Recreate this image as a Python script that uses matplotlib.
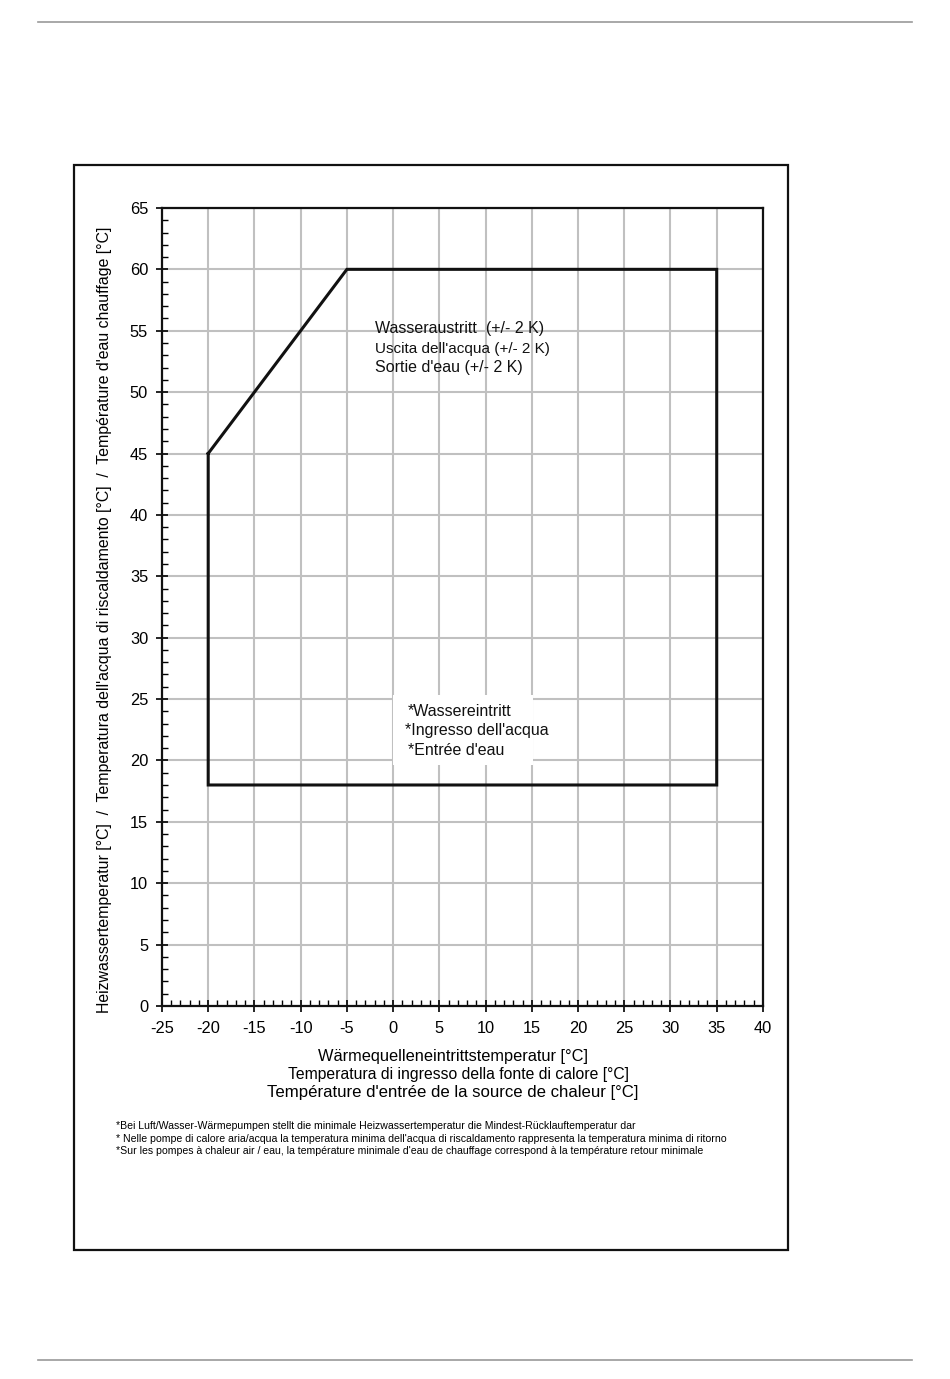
import matplotlib
matplotlib.use('Agg')
import matplotlib.pyplot as plt
from matplotlib.patches import Rectangle
from matplotlib.lines import Line2D
import numpy as np

plt.rcParams['font.family'] = ['Liberation Sans', 'DejaVu Sans']
plt.rcParams['axes.unicode_minus'] = False

# operating envelope (source temp, water temp)
env_x = [-20, -5, 35, 35, -20, -20]
env_y = [45, 60, 60, 18, 18, 45]

x_ticks = list(range(-25, 41, 5))
y_ticks = list(range(0, 66, 5))

outlet_lines = ["Wasseraustritt  (+/- 2 K)",
                "Uscita dell'acqua (+/- 2 K)",
                "Sortie d'eau (+/- 2 K)"]
inlet_lines = ["*Wassereintritt",
               "*Ingresso dell'acqua",
               "*Entrée d'eau"]
xlabel_lines = ["Wärmequelleneintrittstemperatur [°C]",
                "Temperatura di ingresso della fonte di calore [°C]",
                "Température d'entrée de la source de chaleur [°C]"]
ylabel = ("Heizwassertemperatur [°C]  /  Temperatura dell'acqua di riscaldamento [°C]"
          "  /  Température d'eau chauffage [°C]")
footnotes = ["*Bei Luft/Wasser-Wärmepumpen stellt die minimale Heizwassertemperatur die Mindest-Rücklauftemperatur dar",
             "* Nelle pompe di calore aria/acqua la temperatura minima dell'acqua di riscaldamento rappresenta la temperatura minima di ritorno",
             "*Sur les pompes à chaleur air / eau, la température minimale d'eau de chauffage correspond à la température retour minimale"]

fig = plt.figure(figsize=(9.5, 13.79), dpi=100)

# page rules
fig.add_artist(Line2D([0.04, 0.96], [0.984, 0.984], color='#999999', lw=1.2))
fig.add_artist(Line2D([0.04, 0.96], [0.0138, 0.0138], color='#999999', lw=1.2))
# outer frame
fig.add_artist(Rectangle((0.0779, 0.0935), 0.7516, 0.7868, transform=fig.transFigure,
                         fill=False, ec='#111111', lw=1.6))

ax = fig.add_axes([0.1705, 0.2705, 0.6326, 0.5787])
ax.set_xlim(-25, 40)
ax.set_ylim(0, 65)
ax.set_xticks(x_ticks)
ax.set_yticks(y_ticks)
ax.set_xticks(np.arange(-25, 41, 1), minor=True)
ax.set_yticks(np.arange(0, 66, 1), minor=True)
ax.tick_params(which='major', direction='inout', length=8, width=1.2, labelsize=11.8)
ax.tick_params(axis='x', which='major', pad=7)
ax.tick_params(axis='y', which='major', pad=6)
ax.tick_params(which='minor', direction='in', length=4, width=1)
ax.grid(True, which='major', color='#c0c0c0', lw=1.5)
ax.set_axisbelow(True)
for s in ['left', 'bottom', 'top', 'right']:
    ax.spines[s].set_linewidth(1.6)
    ax.spines[s].set_color('#111111')

ax.plot(env_x, env_y, color='#111111', lw=2.2, zorder=3, solid_joinstyle='miter')

# annotations
for i, t in enumerate(outlet_lines):
    ax.text(-2, [55.2, 53.5, 52.0][i], t, fontsize=[11.5, 11, 11.5][i], va='center',
            ha='left', color='#111111', zorder=4)
ax.add_patch(Rectangle((0, 19.6), 15.1, 5.7, fc='white', ec='none', zorder=2))
for i, t in enumerate(inlet_lines):
    ax.text([1.6, 1.3, 1.6][i], [24.0, 22.4, 20.8][i], t, fontsize=11.5, va='center',
            ha='left', color='#111111', zorder=4)

# axis labels
fig.text(453 / 950, 1 - 1056 / 1379, xlabel_lines[0], fontsize=11.8, ha='center', va='center')
fig.text(459 / 950, 1 - 1074 / 1379, xlabel_lines[1], fontsize=11.3, ha='center', va='center')
fig.text(453 / 950, 1 - 1093 / 1379, xlabel_lines[2], fontsize=12.1, ha='center', va='center')
fig.text(105 / 950, 1 - 620 / 1379, ylabel, fontsize=11.4, rotation=90, ha='center', va='center')

for i, t in enumerate(footnotes):
    fig.text(116 / 950, 1 - (1126 + i * 12.5) / 1379, t, fontsize=7.6, ha='left', va='center')

fig.savefig('out.png', dpi=100)
